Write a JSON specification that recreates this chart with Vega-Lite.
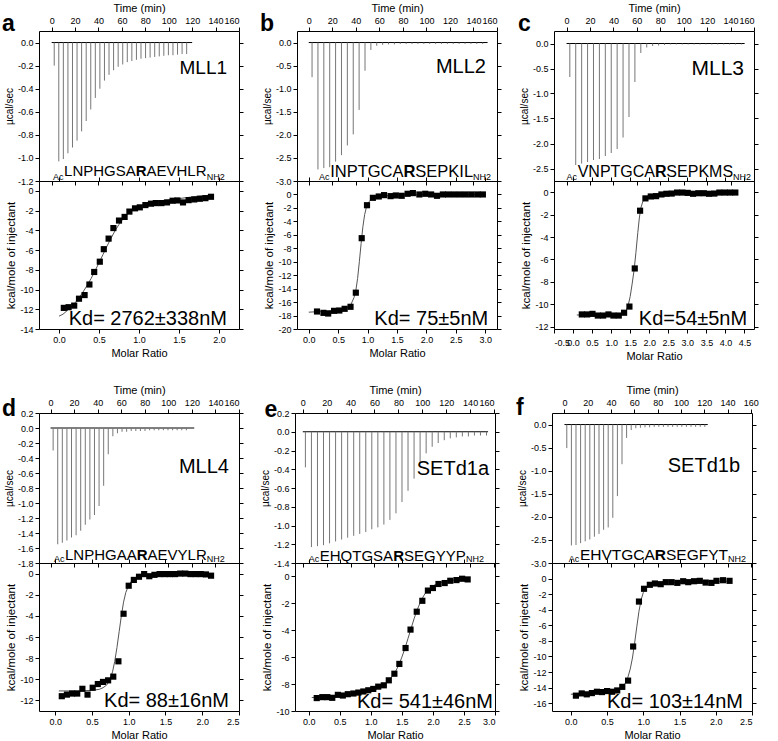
{
"$schema": "https://vega.github.io/schema/vega-lite/v6.json",
"padding": {"left": 1, "top": 1, "right": 0, "bottom": 0},
"background": "white",
"datasets": {
"spikes": [
{"p":"a","t":2.2,"h":-0.2},{"p":"a","t":6.1,"h":-1.03},{"p":"a","t":10,"h":-1.01},{"p":"a","t":13.9,"h":-0.96},{"p":"a","t":17.8,"h":-0.91},{"p":"a","t":21.7,"h":-0.85},{"p":"a","t":25.6,"h":-0.77},{"p":"a","t":29.5,"h":-0.68},{"p":"a","t":33.4,"h":-0.58},{"p":"a","t":37.3,"h":-0.48},{"p":"a","t":41.2,"h":-0.4},{"p":"a","t":45.1,"h":-0.33},{"p":"a","t":49,"h":-0.28},{"p":"a","t":52.9,"h":-0.24},{"p":"a","t":56.8,"h":-0.21},{"p":"a","t":60.7,"h":-0.19},{"p":"a","t":64.6,"h":-0.17},{"p":"a","t":68.5,"h":-0.16},{"p":"a","t":72.4,"h":-0.15},{"p":"a","t":76.3,"h":-0.14},{"p":"a","t":80.2,"h":-0.135},{"p":"a","t":84.1,"h":-0.13},{"p":"a","t":88,"h":-0.125},{"p":"a","t":91.9,"h":-0.12},{"p":"a","t":95.8,"h":-0.115},{"p":"a","t":99.7,"h":-0.11},{"p":"a","t":103.6,"h":-0.11},{"p":"a","t":107.5,"h":-0.105},{"p":"a","t":111.4,"h":-0.1},{"p":"a","t":115.3,"h":-0.1},
{"p":"b","t":2.8,"h":-0.75},{"p":"b","t":7.8,"h":-2.75},{"p":"b","t":12.8,"h":-2.72},{"p":"b","t":17.8,"h":-2.7},{"p":"b","t":22.8,"h":-2.58},{"p":"b","t":27.8,"h":-2.44},{"p":"b","t":32.8,"h":-2.23},{"p":"b","t":37.8,"h":-1.99},{"p":"b","t":42.8,"h":-1.46},{"p":"b","t":47.8,"h":-0.61},{"p":"b","t":52.8,"h":-0.16},{"p":"b","t":57.8,"h":-0.07},{"p":"b","t":62.8,"h":-0.05},{"p":"b","t":67.8,"h":-0.04},{"p":"b","t":72.8,"h":-0.04},{"p":"b","t":77.8,"h":-0.03},{"p":"b","t":82.8,"h":-0.03},{"p":"b","t":87.8,"h":-0.03},{"p":"b","t":92.8,"h":-0.03},{"p":"b","t":97.8,"h":-0.03},{"p":"b","t":102.8,"h":-0.03},{"p":"b","t":107.8,"h":-0.03},{"p":"b","t":112.8,"h":-0.03},{"p":"b","t":117.8,"h":-0.03},{"p":"b","t":122.8,"h":-0.03},{"p":"b","t":127.8,"h":-0.03},{"p":"b","t":132.8,"h":-0.03},{"p":"b","t":137.8,"h":-0.03},{"p":"b","t":142.8,"h":-0.03},{"p":"b","t":147.8,"h":-0.03},
{"p":"c","t":2.8,"h":-0.67},{"p":"c","t":7.85,"h":-2.43},{"p":"c","t":12.9,"h":-2.4},{"p":"c","t":17.95,"h":-2.37},{"p":"c","t":23,"h":-2.33},{"p":"c","t":28.05,"h":-2.31},{"p":"c","t":33.1,"h":-2.25},{"p":"c","t":38.15,"h":-2.19},{"p":"c","t":43.2,"h":-2.11},{"p":"c","t":48.25,"h":-1.88},{"p":"c","t":53.3,"h":-1.47},{"p":"c","t":58.35,"h":-0.77},{"p":"c","t":63.4,"h":-0.19},{"p":"c","t":68.45,"h":-0.08},{"p":"c","t":73.5,"h":-0.05},{"p":"c","t":78.55,"h":-0.04},{"p":"c","t":83.6,"h":-0.03},{"p":"c","t":88.65,"h":-0.02},{"p":"c","t":93.7,"h":-0.02},{"p":"c","t":98.75,"h":-0.02},{"p":"c","t":103.8,"h":-0.02},{"p":"c","t":108.85,"h":-0.02},{"p":"c","t":113.9,"h":-0.02},{"p":"c","t":118.95,"h":-0.02},{"p":"c","t":124,"h":-0.02},{"p":"c","t":129.05,"h":-0.02},{"p":"c","t":134.1,"h":-0.02},{"p":"c","t":139.15,"h":-0.02},{"p":"c","t":144.2,"h":-0.02},{"p":"c","t":149.25,"h":-0.02},
{"p":"d","t":2.2,"h":-0.3},{"p":"d","t":6.1,"h":-1.55},{"p":"d","t":10,"h":-1.53},{"p":"d","t":13.9,"h":-1.5},{"p":"d","t":17.8,"h":-1.46},{"p":"d","t":21.7,"h":-1.43},{"p":"d","t":25.6,"h":-1.37},{"p":"d","t":29.5,"h":-1.29},{"p":"d","t":33.4,"h":-1.22},{"p":"d","t":37.3,"h":-1.16},{"p":"d","t":41.2,"h":-1.04},{"p":"d","t":45.1,"h":-0.77},{"p":"d","t":49,"h":-0.35},{"p":"d","t":52.9,"h":-0.11},{"p":"d","t":56.8,"h":-0.07},{"p":"d","t":60.7,"h":-0.05},{"p":"d","t":64.6,"h":-0.05},{"p":"d","t":68.5,"h":-0.04},{"p":"d","t":72.4,"h":-0.04},{"p":"d","t":76.3,"h":-0.04},{"p":"d","t":80.2,"h":-0.04},{"p":"d","t":84.1,"h":-0.03},{"p":"d","t":88,"h":-0.03},{"p":"d","t":91.9,"h":-0.03},{"p":"d","t":95.8,"h":-0.03},{"p":"d","t":99.7,"h":-0.03},{"p":"d","t":103.6,"h":-0.03},{"p":"d","t":107.5,"h":-0.03},{"p":"d","t":111.4,"h":-0.03},{"p":"d","t":115.3,"h":-0.03},
{"p":"e","t":2.2,"h":-0.38},{"p":"e","t":7.25,"h":-1.23},{"p":"e","t":12.3,"h":-1.22},{"p":"e","t":17.35,"h":-1.21},{"p":"e","t":22.4,"h":-1.19},{"p":"e","t":27.45,"h":-1.17},{"p":"e","t":32.5,"h":-1.15},{"p":"e","t":37.55,"h":-1.13},{"p":"e","t":42.6,"h":-1.11},{"p":"e","t":47.65,"h":-1.09},{"p":"e","t":52.7,"h":-1.07},{"p":"e","t":57.75,"h":-1.04},{"p":"e","t":62.8,"h":-1.02},{"p":"e","t":67.85,"h":-0.99},{"p":"e","t":72.9,"h":-0.94},{"p":"e","t":77.95,"h":-0.87},{"p":"e","t":83,"h":-0.75},{"p":"e","t":88.05,"h":-0.63},{"p":"e","t":93.1,"h":-0.5},{"p":"e","t":98.15,"h":-0.33},{"p":"e","t":103.2,"h":-0.23},{"p":"e","t":108.25,"h":-0.16},{"p":"e","t":113.3,"h":-0.12},{"p":"e","t":118.35,"h":-0.09},{"p":"e","t":123.4,"h":-0.07},{"p":"e","t":128.45,"h":-0.06},{"p":"e","t":133.5,"h":-0.05},{"p":"e","t":138.55,"h":-0.05},{"p":"e","t":143.6,"h":-0.04},{"p":"e","t":148.65,"h":-0.04},{"p":"e","t":153.7,"h":-0.04},
{"p":"f","t":2,"h":-0.51},{"p":"f","t":5.95,"h":-2.62},{"p":"f","t":9.9,"h":-2.61},{"p":"f","t":13.85,"h":-2.57},{"p":"f","t":17.8,"h":-2.53},{"p":"f","t":21.75,"h":-2.49},{"p":"f","t":25.7,"h":-2.43},{"p":"f","t":29.65,"h":-2.37},{"p":"f","t":33.6,"h":-2.28},{"p":"f","t":37.55,"h":-2.23},{"p":"f","t":41.5,"h":-2.02},{"p":"f","t":45.45,"h":-1.55},{"p":"f","t":49.4,"h":-0.86},{"p":"f","t":53.35,"h":-0.29},{"p":"f","t":57.3,"h":-0.12},{"p":"f","t":61.25,"h":-0.08},{"p":"f","t":65.2,"h":-0.07},{"p":"f","t":69.15,"h":-0.06},{"p":"f","t":73.1,"h":-0.06},{"p":"f","t":77.05,"h":-0.05},{"p":"f","t":81,"h":-0.05},{"p":"f","t":84.95,"h":-0.05},{"p":"f","t":88.9,"h":-0.05},{"p":"f","t":92.85,"h":-0.05},{"p":"f","t":96.8,"h":-0.05},{"p":"f","t":100.75,"h":-0.05},{"p":"f","t":104.7,"h":-0.05},{"p":"f","t":108.65,"h":-0.05},{"p":"f","t":112.6,"h":-0.05},{"p":"f","t":116.55,"h":-0.05},{"p":"f","t":120.5,"h":-0.05}
],
"iso": [
{"p":"a","mr":0.06,"v":-11.86},{"p":"a","mr":0.12,"v":-11.79},{"p":"a","mr":0.19,"v":-11.63},{"p":"a","mr":0.25,"v":-10.93},{"p":"a","mr":0.32,"v":-10.56},{"p":"a","mr":0.38,"v":-9.49},{"p":"a","mr":0.44,"v":-8.22},{"p":"a","mr":0.51,"v":-7.18},{"p":"a","mr":0.56,"v":-5.91},{"p":"a","mr":0.62,"v":-4.84},{"p":"a","mr":0.68,"v":-3.77},{"p":"a","mr":0.75,"v":-3.01},{"p":"a","mr":0.82,"v":-2.64},{"p":"a","mr":0.88,"v":-2.1},{"p":"a","mr":0.95,"v":-1.77},{"p":"a","mr":1.01,"v":-1.67},{"p":"a","mr":1.08,"v":-1.44},{"p":"a","mr":1.15,"v":-1.3},{"p":"a","mr":1.21,"v":-1.24},{"p":"a","mr":1.28,"v":-1.24},{"p":"a","mr":1.35,"v":-1.17},{"p":"a","mr":1.42,"v":-1.0},{"p":"a","mr":1.48,"v":-0.97},{"p":"a","mr":1.55,"v":-1.17},{"p":"a","mr":1.62,"v":-0.94},{"p":"a","mr":1.69,"v":-0.87},{"p":"a","mr":1.76,"v":-0.8},{"p":"a","mr":1.83,"v":-0.74},{"p":"a","mr":1.9,"v":-0.6},
{"p":"b","mr":0.14,"v":-17.4},{"p":"b","mr":0.25,"v":-17.6},{"p":"b","mr":0.33,"v":-17.7},{"p":"b","mr":0.43,"v":-17.3},{"p":"b","mr":0.52,"v":-17.25},{"p":"b","mr":0.61,"v":-17.0},{"p":"b","mr":0.71,"v":-16.7},{"p":"b","mr":0.8,"v":-14.6},{"p":"b","mr":0.9,"v":-6.5},{"p":"b","mr":0.99,"v":-1.6},{"p":"b","mr":1.09,"v":-0.5},{"p":"b","mr":1.19,"v":-0.3},{"p":"b","mr":1.28,"v":-0.1},{"p":"b","mr":1.39,"v":-0.25},{"p":"b","mr":1.48,"v":-0.15},{"p":"b","mr":1.58,"v":-0.2},{"p":"b","mr":1.68,"v":0.1},{"p":"b","mr":1.77,"v":0.2},{"p":"b","mr":1.88,"v":0.0},{"p":"b","mr":1.98,"v":0.1},{"p":"b","mr":2.08,"v":0.0},{"p":"b","mr":2.18,"v":-0.2},{"p":"b","mr":2.28,"v":0.0},{"p":"b","mr":2.37,"v":0.0},{"p":"b","mr":2.47,"v":0.0},{"p":"b","mr":2.57,"v":0.0},{"p":"b","mr":2.67,"v":0.0},{"p":"b","mr":2.77,"v":0.0},{"p":"b","mr":2.87,"v":0.0},{"p":"b","mr":2.96,"v":0.0},
{"p":"c","mr":0.23,"v":-10.9},{"p":"c","mr":0.37,"v":-10.9},{"p":"c","mr":0.51,"v":-10.85},{"p":"c","mr":0.65,"v":-11.0},{"p":"c","mr":0.79,"v":-11.0},{"p":"c","mr":0.93,"v":-10.9},{"p":"c","mr":1.06,"v":-11.0},{"p":"c","mr":1.2,"v":-11.0},{"p":"c","mr":1.34,"v":-10.75},{"p":"c","mr":1.48,"v":-10.2},{"p":"c","mr":1.62,"v":-6.8},{"p":"c","mr":1.76,"v":-1.65},{"p":"c","mr":1.9,"v":-0.55},{"p":"c","mr":2.04,"v":-0.38},{"p":"c","mr":2.18,"v":-0.35},{"p":"c","mr":2.32,"v":-0.2},{"p":"c","mr":2.45,"v":-0.14},{"p":"c","mr":2.59,"v":-0.12},{"p":"c","mr":2.73,"v":-0.03},{"p":"c","mr":2.87,"v":-0.03},{"p":"c","mr":3.01,"v":-0.06},{"p":"c","mr":3.15,"v":-0.14},{"p":"c","mr":3.29,"v":-0.09},{"p":"c","mr":3.43,"v":-0.09},{"p":"c","mr":3.57,"v":-0.14},{"p":"c","mr":3.71,"v":-0.12},{"p":"c","mr":3.84,"v":-0.03},{"p":"c","mr":3.98,"v":-0.03},{"p":"c","mr":4.12,"v":-0.03},{"p":"c","mr":4.26,"v":-0.03},
{"p":"d","mr":0.09,"v":-11.6},{"p":"d","mr":0.16,"v":-11.45},{"p":"d","mr":0.23,"v":-11.35},{"p":"d","mr":0.3,"v":-11.35},{"p":"d","mr":0.37,"v":-10.9},{"p":"d","mr":0.44,"v":-11.45},{"p":"d","mr":0.51,"v":-10.8},{"p":"d","mr":0.58,"v":-10.45},{"p":"d","mr":0.65,"v":-10.25},{"p":"d","mr":0.72,"v":-10.1},{"p":"d","mr":0.79,"v":-9.75},{"p":"d","mr":0.86,"v":-8.3},{"p":"d","mr":0.93,"v":-3.8},{"p":"d","mr":1.0,"v":-1.15},{"p":"d","mr":1.07,"v":-0.6},{"p":"d","mr":1.14,"v":-0.3},{"p":"d","mr":1.21,"v":-0.05},{"p":"d","mr":1.28,"v":-0.25},{"p":"d","mr":1.35,"v":-0.12},{"p":"d","mr":1.42,"v":-0.05},{"p":"d","mr":1.49,"v":-0.05},{"p":"d","mr":1.56,"v":-0.05},{"p":"d","mr":1.63,"v":-0.05},{"p":"d","mr":1.7,"v":0.0},{"p":"d","mr":1.77,"v":0.0},{"p":"d","mr":1.84,"v":-0.05},{"p":"d","mr":1.91,"v":-0.05},{"p":"d","mr":1.98,"v":-0.05},{"p":"d","mr":2.05,"v":-0.08},{"p":"d","mr":2.12,"v":-0.2},
{"p":"e","mr":0.13,"v":-9.04},{"p":"e","mr":0.22,"v":-8.97},{"p":"e","mr":0.3,"v":-8.97},{"p":"e","mr":0.38,"v":-9.02},{"p":"e","mr":0.47,"v":-8.8},{"p":"e","mr":0.55,"v":-8.85},{"p":"e","mr":0.63,"v":-8.75},{"p":"e","mr":0.72,"v":-8.7},{"p":"e","mr":0.8,"v":-8.63},{"p":"e","mr":0.88,"v":-8.55},{"p":"e","mr":0.96,"v":-8.46},{"p":"e","mr":1.04,"v":-8.36},{"p":"e","mr":1.12,"v":-8.19},{"p":"e","mr":1.21,"v":-8.09},{"p":"e","mr":1.29,"v":-7.72},{"p":"e","mr":1.38,"v":-7.23},{"p":"e","mr":1.46,"v":-6.5},{"p":"e","mr":1.56,"v":-5.32},{"p":"e","mr":1.64,"v":-3.95},{"p":"e","mr":1.74,"v":-2.62},{"p":"e","mr":1.83,"v":-1.81},{"p":"e","mr":1.92,"v":-1.05},{"p":"e","mr":2.0,"v":-0.86},{"p":"e","mr":2.09,"v":-0.56},{"p":"e","mr":2.19,"v":-0.49},{"p":"e","mr":2.28,"v":-0.32},{"p":"e","mr":2.38,"v":-0.27},{"p":"e","mr":2.47,"v":-0.17},{"p":"e","mr":2.56,"v":-0.22},
{"p":"f","mr":0.07,"v":-15.03},{"p":"f","mr":0.15,"v":-14.74},{"p":"f","mr":0.22,"v":-14.86},{"p":"f","mr":0.29,"v":-14.7},{"p":"f","mr":0.36,"v":-14.53},{"p":"f","mr":0.43,"v":-14.57},{"p":"f","mr":0.5,"v":-14.44},{"p":"f","mr":0.57,"v":-14.53},{"p":"f","mr":0.64,"v":-14.36},{"p":"f","mr":0.71,"v":-13.9},{"p":"f","mr":0.79,"v":-13.1},{"p":"f","mr":0.86,"v":-8.72},{"p":"f","mr":0.94,"v":-2.95},{"p":"f","mr":1.01,"v":-1.31},{"p":"f","mr":1.09,"v":-0.8},{"p":"f","mr":1.16,"v":-0.63},{"p":"f","mr":1.24,"v":-0.72},{"p":"f","mr":1.31,"v":-0.46},{"p":"f","mr":1.39,"v":-0.46},{"p":"f","mr":1.47,"v":-0.55},{"p":"f","mr":1.55,"v":-0.34},{"p":"f","mr":1.62,"v":-0.46},{"p":"f","mr":1.7,"v":-0.34},{"p":"f","mr":1.78,"v":-0.29},{"p":"f","mr":1.86,"v":-0.51},{"p":"f","mr":1.94,"v":-0.55},{"p":"f","mr":2.01,"v":-0.29},{"p":"f","mr":2.1,"v":-0.21},{"p":"f","mr":2.19,"v":-0.29}
],
"fit": [
{"p":"a","mr":0.0,"v":-12.7},{"p":"a","mr":0.05,"v":-12.5},{"p":"a","mr":0.1,"v":-12.15},{"p":"a","mr":0.15,"v":-11.8},{"p":"a","mr":0.2,"v":-11.35},{"p":"a","mr":0.25,"v":-10.85},{"p":"a","mr":0.3,"v":-10.25},{"p":"a","mr":0.35,"v":-9.6},{"p":"a","mr":0.4,"v":-8.9},{"p":"a","mr":0.45,"v":-8.1},{"p":"a","mr":0.5,"v":-7.3},{"p":"a","mr":0.55,"v":-6.45},{"p":"a","mr":0.6,"v":-5.6},{"p":"a","mr":0.65,"v":-4.8},{"p":"a","mr":0.7,"v":-4.05},{"p":"a","mr":0.75,"v":-3.4},{"p":"a","mr":0.8,"v":-2.85},{"p":"a","mr":0.85,"v":-2.4},{"p":"a","mr":0.9,"v":-2.05},{"p":"a","mr":0.95,"v":-1.8},{"p":"a","mr":1.0,"v":-1.6},{"p":"a","mr":1.1,"v":-1.35},{"p":"a","mr":1.2,"v":-1.15},{"p":"a","mr":1.3,"v":-1.0},{"p":"a","mr":1.4,"v":-0.88},{"p":"a","mr":1.5,"v":-0.78},{"p":"a","mr":1.6,"v":-0.68},{"p":"a","mr":1.7,"v":-0.58},{"p":"a","mr":1.8,"v":-0.5},{"p":"a","mr":1.92,"v":-0.42},
{"p":"b","mr":0.0,"v":-17.5},{"p":"b","mr":0.2,"v":-17.4},{"p":"b","mr":0.4,"v":-17.25},{"p":"b","mr":0.55,"v":-17.05},{"p":"b","mr":0.65,"v":-16.8},{"p":"b","mr":0.72,"v":-16.3},{"p":"b","mr":0.77,"v":-15.3},{"p":"b","mr":0.8,"v":-14.3},{"p":"b","mr":0.83,"v":-12.5},{"p":"b","mr":0.86,"v":-10.0},{"p":"b","mr":0.89,"v":-7.3},{"p":"b","mr":0.92,"v":-4.8},{"p":"b","mr":0.95,"v":-3.0},{"p":"b","mr":0.98,"v":-1.9},{"p":"b","mr":1.02,"v":-1.1},{"p":"b","mr":1.08,"v":-0.6},{"p":"b","mr":1.2,"v":-0.3},{"p":"b","mr":1.4,"v":-0.15},{"p":"b","mr":1.8,"v":-0.06},{"p":"b","mr":2.4,"v":-0.03},{"p":"b","mr":2.96,"v":-0.02},
{"p":"c","mr":0.1,"v":-10.95},{"p":"c","mr":0.6,"v":-10.95},{"p":"c","mr":1.0,"v":-10.95},{"p":"c","mr":1.2,"v":-10.93},{"p":"c","mr":1.3,"v":-10.85},{"p":"c","mr":1.38,"v":-10.65},{"p":"c","mr":1.44,"v":-10.2},{"p":"c","mr":1.5,"v":-9.3},{"p":"c","mr":1.55,"v":-8.2},{"p":"c","mr":1.6,"v":-7.0},{"p":"c","mr":1.65,"v":-5.4},{"p":"c","mr":1.7,"v":-3.6},{"p":"c","mr":1.74,"v":-2.3},{"p":"c","mr":1.78,"v":-1.4},{"p":"c","mr":1.83,"v":-0.85},{"p":"c","mr":1.9,"v":-0.55},{"p":"c","mr":2.0,"v":-0.35},{"p":"c","mr":2.2,"v":-0.2},{"p":"c","mr":2.6,"v":-0.1},{"p":"c","mr":3.2,"v":-0.05},{"p":"c","mr":4.26,"v":-0.03},
{"p":"d","mr":0.05,"v":-11.1},{"p":"d","mr":0.3,"v":-11.1},{"p":"d","mr":0.5,"v":-11.05},{"p":"d","mr":0.6,"v":-10.95},{"p":"d","mr":0.65,"v":-10.8},{"p":"d","mr":0.7,"v":-10.55},{"p":"d","mr":0.74,"v":-10.1},{"p":"d","mr":0.78,"v":-9.3},{"p":"d","mr":0.81,"v":-8.3},{"p":"d","mr":0.84,"v":-7.0},{"p":"d","mr":0.87,"v":-5.5},{"p":"d","mr":0.9,"v":-4.0},{"p":"d","mr":0.93,"v":-2.7},{"p":"d","mr":0.96,"v":-1.8},{"p":"d","mr":1.0,"v":-1.1},{"p":"d","mr":1.05,"v":-0.6},{"p":"d","mr":1.1,"v":-0.35},{"p":"d","mr":1.2,"v":-0.17},{"p":"d","mr":1.4,"v":-0.08},{"p":"d","mr":1.7,"v":-0.05},{"p":"d","mr":2.12,"v":-0.04},
{"p":"e","mr":0.05,"v":-9.0},{"p":"e","mr":0.3,"v":-8.95},{"p":"e","mr":0.6,"v":-8.85},{"p":"e","mr":0.8,"v":-8.7},{"p":"e","mr":1.0,"v":-8.5},{"p":"e","mr":1.1,"v":-8.35},{"p":"e","mr":1.2,"v":-8.1},{"p":"e","mr":1.3,"v":-7.7},{"p":"e","mr":1.4,"v":-7.05},{"p":"e","mr":1.45,"v":-6.6},{"p":"e","mr":1.5,"v":-6.0},{"p":"e","mr":1.55,"v":-5.35},{"p":"e","mr":1.6,"v":-4.6},{"p":"e","mr":1.65,"v":-3.85},{"p":"e","mr":1.7,"v":-3.1},{"p":"e","mr":1.75,"v":-2.45},{"p":"e","mr":1.8,"v":-1.9},{"p":"e","mr":1.85,"v":-1.45},{"p":"e","mr":1.9,"v":-1.1},{"p":"e","mr":2.0,"v":-0.7},{"p":"e","mr":2.1,"v":-0.48},{"p":"e","mr":2.2,"v":-0.35},{"p":"e","mr":2.35,"v":-0.25},{"p":"e","mr":2.56,"v":-0.18},
{"p":"f","mr":0.0,"v":-14.85},{"p":"f","mr":0.3,"v":-14.7},{"p":"f","mr":0.5,"v":-14.55},{"p":"f","mr":0.6,"v":-14.4},{"p":"f","mr":0.68,"v":-14.1},{"p":"f","mr":0.74,"v":-13.6},{"p":"f","mr":0.78,"v":-12.9},{"p":"f","mr":0.82,"v":-11.6},{"p":"f","mr":0.85,"v":-10.2},{"p":"f","mr":0.88,"v":-8.3},{"p":"f","mr":0.91,"v":-6.2},{"p":"f","mr":0.94,"v":-4.2},{"p":"f","mr":0.97,"v":-2.7},{"p":"f","mr":1.0,"v":-1.8},{"p":"f","mr":1.04,"v":-1.2},{"p":"f","mr":1.1,"v":-0.85},{"p":"f","mr":1.2,"v":-0.62},{"p":"f","mr":1.4,"v":-0.48},{"p":"f","mr":1.7,"v":-0.4},{"p":"f","mr":2.2,"v":-0.33}
]
},
"spacing": 21,
"vconcat": [
{"spacing": 15, "hconcat": [
{"bounds": "flush", "spacing": 0, "vconcat": [
{"width": 200, "height": 150, "resolve": {"axis": {"x": "independent", "y": "independent"}}, "layer": [
{"data": {"values": [{}]}, "mark": {"type": "rule", "color": "#000", "strokeWidth": 1}, "encoding": {
"x": {"datum": 0, "type": "quantitative", "scale": {"domain": [-10.8, 160], "nice": false, "zero": false}, "axis": {"orient": "top", "title": "Time (min)", "values": [0,20,40,60,80,100,120,140,160], "format": "d"}},
"x2": {"datum": 120},
"y": {"datum": 0, "type": "quantitative", "scale": {"domain": [-1.2, 0.1], "nice": false, "zero": false}, "axis": {"orient": "left", "title": "µcal/sec", "titleFontSize": 10, "values": [0,-0.2,-0.4,-0.6,-0.8,-1.0,-1.2], "format": ".1f"}}}},
{"data": {"name": "spikes"}, "transform": [{"filter": "datum.p == 'a'"}], "mark": {"type": "rule", "color": "#777", "strokeWidth": 1}, "encoding": {
"x": {"field": "t", "type": "quantitative", "axis": {"orient": "bottom", "labels": false, "title": null, "values": [0,20,40,60,80,100,120,140,160]}},
"y": {"field": "h", "type": "quantitative", "axis": {"orient": "right", "labels": false, "title": null, "values": [0,-0.2,-0.4,-0.6,-0.8,-1.0,-1.2]}},
"y2": {"datum": 0}}},
{"data": {"values": [{}]}, "mark": {"type": "text", "text": "a", "fontSize": 23, "fontWeight": "bold", "align": "left", "baseline": "alphabetic"}, "encoding": {"x": {"datum": -42.4, "type": "quantitative", "axis": null}, "y": {"datum": 0.1, "type": "quantitative", "axis": null}}},
{"data": {"values": [{}]}, "mark": {"type": "text", "text": "MLL1", "fontSize": 19, "align": "right", "baseline": "alphabetic"}, "encoding": {"x": {"datum": 149.8, "type": "quantitative", "axis": null}, "y": {"datum": -0.273, "type": "quantitative", "axis": null}}},
{"data": {"values": [{}]}, "mark": {"type": "text", "text": "Ac", "fontSize": 9, "align": "right", "baseline": "alphabetic"}, "encoding": {"x": {"datum": 10.1, "type": "quantitative", "axis": null}, "y": {"datum": -1.187, "type": "quantitative", "axis": null}}},
{"data": {"values": [{}]}, "mark": {"type": "text", "text": "LNPHGSA", "fontSize": 15, "align": "left", "baseline": "alphabetic"}, "encoding": {"x": {"datum": 10.6, "type": "quantitative", "axis": null}, "y": {"datum": -1.157, "type": "quantitative", "axis": null}}},
{"data": {"values": [{}]}, "mark": {"type": "text", "text": "R", "fontSize": 15, "fontWeight": "bold", "align": "left", "baseline": "alphabetic"}, "encoding": {"x": {"datum": 71.8, "type": "quantitative", "axis": null}, "y": {"datum": -1.157, "type": "quantitative", "axis": null}}},
{"data": {"values": [{}]}, "mark": {"type": "text", "text": "AEVHLR", "fontSize": 15, "align": "left", "baseline": "alphabetic"}, "encoding": {"x": {"datum": 81.0, "type": "quantitative", "axis": null}, "y": {"datum": -1.157, "type": "quantitative", "axis": null}}},
{"data": {"values": [{}]}, "mark": {"type": "text", "text": "NH2", "fontSize": 9, "align": "left", "baseline": "alphabetic"}, "encoding": {"x": {"datum": 132.4, "type": "quantitative", "axis": null}, "y": {"datum": -1.187, "type": "quantitative", "axis": null}}}
]},
{"width": 200, "height": 148, "resolve": {"axis": {"x": "independent", "y": "independent"}}, "layer": [
{"data": {"name": "fit"}, "transform": [{"filter": "datum.p == 'a'"}], "mark": {"type": "line", "color": "#555", "strokeWidth": 1}, "encoding": {
"x": {"field": "mr", "type": "quantitative", "scale": {"domain": [-0.25, 2.25], "nice": false, "zero": false}, "axis": {"orient": "bottom", "title": "Molar Ratio", "values": [0,0.5,1,1.5,2], "format": ".1f"}},
"y": {"field": "v", "type": "quantitative", "scale": {"domain": [-14, 1], "nice": false, "zero": false}, "axis": {"orient": "left", "title": "kcal/mole of injectant", "titleFontSize": 11.5, "values": [0,-2,-4,-6,-8,-10,-12,-14], "format": "d"}}}},
{"data": {"name": "iso"}, "transform": [{"filter": "datum.p == 'a'"}], "mark": {"type": "square", "color": "#000", "size": 38, "opacity": 1}, "encoding": {
"x": {"field": "mr", "type": "quantitative", "axis": {"orient": "top", "labels": false, "title": null, "values": [0,0.5,1,1.5,2]}},
"y": {"field": "v", "type": "quantitative", "axis": {"orient": "right", "labels": false, "title": null, "values": [0,-2,-4,-6,-8,-10,-12,-14]}}}},
{"data": {"values": [{}]}, "mark": {"type": "text", "text": "Kd= 2762±338nM", "fontSize": 20, "align": "right", "baseline": "alphabetic"}, "encoding": {"x": {"datum": 2.1, "type": "quantitative", "axis": null}, "y": {"datum": -13.6, "type": "quantitative", "axis": null}}}
]}
]},
{"bounds": "flush", "spacing": 0, "vconcat": [
{"width": 200, "height": 150, "resolve": {"axis": {"x": "independent", "y": "independent"}}, "layer": [
{"data": {"values": [{}]}, "mark": {"type": "rule", "color": "#000", "strokeWidth": 1}, "encoding": {
"x": {"datum": 0, "type": "quantitative", "scale": {"domain": [-10, 160], "nice": false, "zero": false}, "axis": {"orient": "top", "title": "Time (min)", "values": [0,20,40,60,80,100,120,140,160], "format": "d"}},
"x2": {"datum": 152},
"y": {"datum": 0, "type": "quantitative", "scale": {"domain": [-3.0, 0.25], "nice": false, "zero": false}, "axis": {"orient": "left", "title": "µcal/sec", "titleFontSize": 10, "values": [0,-0.5,-1,-1.5,-2,-2.5,-3], "format": ".1f"}}}},
{"data": {"name": "spikes"}, "transform": [{"filter": "datum.p == 'b'"}], "mark": {"type": "rule", "color": "#777", "strokeWidth": 1}, "encoding": {
"x": {"field": "t", "type": "quantitative", "axis": {"orient": "bottom", "labels": false, "title": null, "values": [0,20,40,60,80,100,120,140,160]}},
"y": {"field": "h", "type": "quantitative", "axis": {"orient": "right", "labels": false, "title": null, "values": [0,-0.5,-1,-1.5,-2,-2.5,-3]}},
"y2": {"datum": 0}}},
{"data": {"values": [{}]}, "mark": {"type": "text", "text": "b", "fontSize": 23, "fontWeight": "bold", "align": "left", "baseline": "alphabetic"}, "encoding": {"x": {"datum": -41.5, "type": "quantitative", "axis": null}, "y": {"datum": 0.25, "type": "quantitative", "axis": null}}},
{"data": {"values": [{}]}, "mark": {"type": "text", "text": "MLL2", "fontSize": 20, "align": "right", "baseline": "alphabetic"}, "encoding": {"x": {"datum": 150.6, "type": "quantitative", "axis": null}, "y": {"datum": -0.66, "type": "quantitative", "axis": null}}},
{"data": {"values": [{}]}, "mark": {"type": "text", "text": "Ac", "fontSize": 9, "align": "right", "baseline": "alphabetic"}, "encoding": {"x": {"datum": 17.7, "type": "quantitative", "axis": null}, "y": {"datum": -2.97, "type": "quantitative", "axis": null}}},
{"data": {"values": [{}]}, "mark": {"type": "text", "text": "INPTGCA", "fontSize": 16.5, "align": "left", "baseline": "alphabetic"}, "encoding": {"x": {"datum": 18.2, "type": "quantitative", "axis": null}, "y": {"datum": -2.92, "type": "quantitative", "axis": null}}},
{"data": {"values": [{}]}, "mark": {"type": "text", "text": "R", "fontSize": 16.5, "fontWeight": "bold", "align": "left", "baseline": "alphabetic"}, "encoding": {"x": {"datum": 80.5, "type": "quantitative", "axis": null}, "y": {"datum": -2.92, "type": "quantitative", "axis": null}}},
{"data": {"values": [{}]}, "mark": {"type": "text", "text": "SEPKIL", "fontSize": 16.5, "align": "left", "baseline": "alphabetic"}, "encoding": {"x": {"datum": 90.6, "type": "quantitative", "axis": null}, "y": {"datum": -2.92, "type": "quantitative", "axis": null}}},
{"data": {"values": [{}]}, "mark": {"type": "text", "text": "NH2", "fontSize": 9, "align": "left", "baseline": "alphabetic"}, "encoding": {"x": {"datum": 139.7, "type": "quantitative", "axis": null}, "y": {"datum": -2.97, "type": "quantitative", "axis": null}}}
]},
{"width": 200, "height": 148, "resolve": {"axis": {"x": "independent", "y": "independent"}}, "layer": [
{"data": {"name": "fit"}, "transform": [{"filter": "datum.p == 'b'"}], "mark": {"type": "line", "color": "#555", "strokeWidth": 1}, "encoding": {
"x": {"field": "mr", "type": "quantitative", "scale": {"domain": [-0.2, 3.2], "nice": false, "zero": false}, "axis": {"orient": "bottom", "title": "Molar Ratio", "values": [0,0.5,1,1.5,2,2.5,3], "format": ".1f"}},
"y": {"field": "v", "type": "quantitative", "scale": {"domain": [-20, 2], "nice": false, "zero": false}, "axis": {"orient": "left", "title": "kcal/mole of injectant", "titleFontSize": 11.5, "values": [0,-2,-4,-6,-8,-10,-12,-14,-16,-18,-20], "format": "d"}}}},
{"data": {"name": "iso"}, "transform": [{"filter": "datum.p == 'b'"}], "mark": {"type": "square", "color": "#000", "size": 38, "opacity": 1}, "encoding": {
"x": {"field": "mr", "type": "quantitative", "axis": {"orient": "top", "labels": false, "title": null, "values": [0,0.5,1,1.5,2,2.5,3]}},
"y": {"field": "v", "type": "quantitative", "axis": {"orient": "right", "labels": false, "title": null, "values": [0,-2,-4,-6,-8,-10,-12,-14,-16,-18,-20]}}}},
{"data": {"values": [{}]}, "mark": {"type": "text", "text": "Kd= 75±5nM", "fontSize": 20, "align": "right", "baseline": "alphabetic"}, "encoding": {"x": {"datum": 3.05, "type": "quantitative", "axis": null}, "y": {"datum": -19.4, "type": "quantitative", "axis": null}}}
]}
]},
{"bounds": "flush", "spacing": 0, "vconcat": [
{"width": 200, "height": 150, "resolve": {"axis": {"x": "independent", "y": "independent"}}, "layer": [
{"data": {"values": [{}]}, "mark": {"type": "rule", "color": "#000", "strokeWidth": 1}, "encoding": {
"x": {"datum": 0, "type": "quantitative", "scale": {"domain": [-10.7, 160], "nice": false, "zero": false}, "axis": {"orient": "top", "title": "Time (min)", "values": [0,20,40,60,80,100,120,140,160], "format": "d"}},
"x2": {"datum": 152},
"y": {"datum": 0, "type": "quantitative", "scale": {"domain": [-2.75, 0.25], "nice": false, "zero": false}, "axis": {"orient": "left", "title": "µcal/sec", "titleFontSize": 10, "values": [0,-0.5,-1,-1.5,-2,-2.5], "format": ".1f"}}}},
{"data": {"name": "spikes"}, "transform": [{"filter": "datum.p == 'c'"}], "mark": {"type": "rule", "color": "#777", "strokeWidth": 1}, "encoding": {
"x": {"field": "t", "type": "quantitative", "axis": {"orient": "bottom", "labels": false, "title": null, "values": [0,20,40,60,80,100,120,140,160]}},
"y": {"field": "h", "type": "quantitative", "axis": {"orient": "right", "labels": false, "title": null, "values": [0,-0.5,-1,-1.5,-2,-2.5]}},
"y2": {"datum": 0}}},
{"data": {"values": [{}]}, "mark": {"type": "text", "text": "c", "fontSize": 23, "fontWeight": "bold", "align": "left", "baseline": "alphabetic"}, "encoding": {"x": {"datum": -41.4, "type": "quantitative", "axis": null}, "y": {"datum": 0.25, "type": "quantitative", "axis": null}}},
{"data": {"values": [{}]}, "mark": {"type": "text", "text": "MLL3", "fontSize": 21, "align": "right", "baseline": "alphabetic"}, "encoding": {"x": {"datum": 151.5, "type": "quantitative", "axis": null}, "y": {"datum": -0.63, "type": "quantitative", "axis": null}}},
{"data": {"values": [{}]}, "mark": {"type": "text", "text": "Ac", "fontSize": 9, "align": "right", "baseline": "alphabetic"}, "encoding": {"x": {"datum": 9.0, "type": "quantitative", "axis": null}, "y": {"datum": -2.73, "type": "quantitative", "axis": null}}},
{"data": {"values": [{}]}, "mark": {"type": "text", "text": "VNPTGCA", "fontSize": 16, "align": "left", "baseline": "alphabetic"}, "encoding": {"x": {"datum": 9.5, "type": "quantitative", "axis": null}, "y": {"datum": -2.67, "type": "quantitative", "axis": null}}},
{"data": {"values": [{}]}, "mark": {"type": "text", "text": "R", "fontSize": 16, "fontWeight": "bold", "align": "left", "baseline": "alphabetic"}, "encoding": {"x": {"datum": 75.4, "type": "quantitative", "axis": null}, "y": {"datum": -2.67, "type": "quantitative", "axis": null}}},
{"data": {"values": [{}]}, "mark": {"type": "text", "text": "SEPKMS", "fontSize": 16, "align": "left", "baseline": "alphabetic"}, "encoding": {"x": {"datum": 85.2, "type": "quantitative", "axis": null}, "y": {"datum": -2.67, "type": "quantitative", "axis": null}}},
{"data": {"values": [{}]}, "mark": {"type": "text", "text": "NH2", "fontSize": 9, "align": "left", "baseline": "alphabetic"}, "encoding": {"x": {"datum": 142.0, "type": "quantitative", "axis": null}, "y": {"datum": -2.73, "type": "quantitative", "axis": null}}}
]},
{"width": 200, "height": 148, "resolve": {"axis": {"x": "independent", "y": "independent"}}, "layer": [
{"data": {"name": "fit"}, "transform": [{"filter": "datum.p == 'c'"}], "mark": {"type": "line", "color": "#555", "strokeWidth": 1}, "encoding": {
"x": {"field": "mr", "type": "quantitative", "scale": {"domain": [-0.5, 4.75], "nice": false, "zero": false}, "axis": {"orient": "bottom", "title": "Molar Ratio", "values": [-0.5,0,0.5,1,1.5,2,2.5,3,3.5,4,4.5], "format": ".1f", "labelPadding": 5}},
"y": {"field": "v", "type": "quantitative", "scale": {"domain": [-12.2, 1], "nice": false, "zero": false}, "axis": {"orient": "left", "title": "kcal/mole of injectant", "titleFontSize": 11.5, "values": [0,-2,-4,-6,-8,-10,-12], "format": "d"}}}},
{"data": {"name": "iso"}, "transform": [{"filter": "datum.p == 'c'"}], "mark": {"type": "square", "color": "#000", "size": 38, "opacity": 1}, "encoding": {
"x": {"field": "mr", "type": "quantitative", "axis": {"orient": "top", "labels": false, "title": null, "values": [-0.5,0,0.5,1,1.5,2,2.5,3,3.5,4,4.5]}},
"y": {"field": "v", "type": "quantitative", "axis": {"orient": "right", "labels": false, "title": null, "values": [0,-2,-4,-6,-8,-10,-12]}}}},
{"data": {"values": [{}]}, "mark": {"type": "text", "text": "Kd=54±5nM", "fontSize": 20, "align": "right", "baseline": "alphabetic"}, "encoding": {"x": {"datum": 4.57, "type": "quantitative", "axis": null}, "y": {"datum": -11.8, "type": "quantitative", "axis": null}}}
]}
]}
]},
{"spacing": 15, "hconcat": [
{"bounds": "flush", "spacing": 0, "vconcat": [
{"width": 200, "height": 150, "resolve": {"axis": {"x": "independent", "y": "independent"}}, "layer": [
{"data": {"values": [{}]}, "mark": {"type": "rule", "color": "#000", "strokeWidth": 1}, "encoding": {
"x": {"datum": 0, "type": "quantitative", "scale": {"domain": [-9.8, 160], "nice": false, "zero": false}, "axis": {"orient": "top", "title": "Time (min)", "values": [0,20,40,60,80,100,120,140,160], "format": "d"}},
"x2": {"datum": 122},
"y": {"datum": 0, "type": "quantitative", "scale": {"domain": [-1.8, 0.2], "nice": false, "zero": false}, "axis": {"orient": "left", "title": "µcal/sec", "titleFontSize": 10, "values": [0.2,0,-0.2,-0.4,-0.6,-0.8,-1.0,-1.2,-1.4,-1.6,-1.8], "format": ".1f"}}}},
{"data": {"name": "spikes"}, "transform": [{"filter": "datum.p == 'd'"}], "mark": {"type": "rule", "color": "#777", "strokeWidth": 1}, "encoding": {
"x": {"field": "t", "type": "quantitative", "axis": {"orient": "bottom", "labels": false, "title": null, "values": [0,20,40,60,80,100,120,140,160]}},
"y": {"field": "h", "type": "quantitative", "axis": {"orient": "right", "labels": false, "title": null, "values": [0.2,0,-0.2,-0.4,-0.6,-0.8,-1.0,-1.2,-1.4,-1.6,-1.8]}},
"y2": {"datum": 0}}},
{"data": {"values": [{}]}, "mark": {"type": "text", "text": "d", "fontSize": 23, "fontWeight": "bold", "align": "left", "baseline": "alphabetic"}, "encoding": {"x": {"datum": -41.2, "type": "quantitative", "axis": null}, "y": {"datum": 0.16, "type": "quantitative", "axis": null}}},
{"data": {"values": [{}]}, "mark": {"type": "text", "text": "MLL4", "fontSize": 20, "align": "right", "baseline": "alphabetic"}, "encoding": {"x": {"datum": 151.5, "type": "quantitative", "axis": null}, "y": {"datum": -0.6, "type": "quantitative", "axis": null}}},
{"data": {"values": [{}]}, "mark": {"type": "text", "text": "Ac", "fontSize": 9, "align": "right", "baseline": "alphabetic"}, "encoding": {"x": {"datum": 11.8, "type": "quantitative", "axis": null}, "y": {"datum": -1.787, "type": "quantitative", "axis": null}}},
{"data": {"values": [{}]}, "mark": {"type": "text", "text": "LNPHGAA", "fontSize": 15, "align": "left", "baseline": "alphabetic"}, "encoding": {"x": {"datum": 12.3, "type": "quantitative", "axis": null}, "y": {"datum": -1.76, "type": "quantitative", "axis": null}}},
{"data": {"values": [{}]}, "mark": {"type": "text", "text": "R", "fontSize": 15, "fontWeight": "bold", "align": "left", "baseline": "alphabetic"}, "encoding": {"x": {"datum": 73.2, "type": "quantitative", "axis": null}, "y": {"datum": -1.76, "type": "quantitative", "axis": null}}},
{"data": {"values": [{}]}, "mark": {"type": "text", "text": "AEVYLR", "fontSize": 15, "align": "left", "baseline": "alphabetic"}, "encoding": {"x": {"datum": 82.4, "type": "quantitative", "axis": null}, "y": {"datum": -1.76, "type": "quantitative", "axis": null}}},
{"data": {"values": [{}]}, "mark": {"type": "text", "text": "NH2", "fontSize": 9, "align": "left", "baseline": "alphabetic"}, "encoding": {"x": {"datum": 132.7, "type": "quantitative", "axis": null}, "y": {"datum": -1.787, "type": "quantitative", "axis": null}}}
]},
{"width": 200, "height": 148, "resolve": {"axis": {"x": "independent", "y": "independent"}}, "layer": [
{"data": {"name": "fit"}, "transform": [{"filter": "datum.p == 'd'"}], "mark": {"type": "line", "color": "#555", "strokeWidth": 1}, "encoding": {
"x": {"field": "mr", "type": "quantitative", "scale": {"domain": [-0.22, 2.5], "nice": false, "zero": false}, "axis": {"orient": "bottom", "title": "Molar Ratio", "values": [0,0.5,1,1.5,2,2.5], "format": ".1f"}},
"y": {"field": "v", "type": "quantitative", "scale": {"domain": [-13, 1], "nice": false, "zero": false}, "axis": {"orient": "left", "title": "kcal/mole of injectant", "titleFontSize": 11.5, "values": [0,-2,-4,-6,-8,-10,-12], "format": "d"}}}},
{"data": {"name": "iso"}, "transform": [{"filter": "datum.p == 'd'"}], "mark": {"type": "square", "color": "#000", "size": 38, "opacity": 1}, "encoding": {
"x": {"field": "mr", "type": "quantitative", "axis": {"orient": "top", "labels": false, "title": null, "values": [0,0.5,1,1.5,2,2.5]}},
"y": {"field": "v", "type": "quantitative", "axis": {"orient": "right", "labels": false, "title": null, "values": [0,-2,-4,-6,-8,-10,-12]}}}},
{"data": {"values": [{}]}, "mark": {"type": "text", "text": "Kd= 88±16nM", "fontSize": 20, "align": "right", "baseline": "alphabetic"}, "encoding": {"x": {"datum": 2.364, "type": "quantitative", "axis": null}, "y": {"datum": -12.62, "type": "quantitative", "axis": null}}}
]}
]},
{"bounds": "flush", "spacing": 0, "vconcat": [
{"width": 200, "height": 150, "resolve": {"axis": {"x": "independent", "y": "independent"}}, "layer": [
{"data": {"values": [{}]}, "mark": {"type": "rule", "color": "#000", "strokeWidth": 1}, "encoding": {
"x": {"datum": 0, "type": "quantitative", "scale": {"domain": [-6.5, 160.8], "nice": false, "zero": false}, "axis": {"orient": "top", "title": "Time (min)", "values": [0,20,40,60,80,100,120,140,160], "format": "d"}},
"x2": {"datum": 155},
"y": {"datum": 0, "type": "quantitative", "scale": {"domain": [-1.4, 0.2], "nice": false, "zero": false}, "axis": {"orient": "left", "title": "µcal/sec", "titleFontSize": 10, "values": [0.2,0,-0.2,-0.4,-0.6,-0.8,-1.0,-1.2,-1.4], "format": ".1f"}}}},
{"data": {"name": "spikes"}, "transform": [{"filter": "datum.p == 'e'"}], "mark": {"type": "rule", "color": "#777", "strokeWidth": 1}, "encoding": {
"x": {"field": "t", "type": "quantitative", "axis": {"orient": "bottom", "labels": false, "title": null, "values": [0,20,40,60,80,100,120,140,160]}},
"y": {"field": "h", "type": "quantitative", "axis": {"orient": "right", "labels": false, "title": null, "values": [0.2,0,-0.2,-0.4,-0.6,-0.8,-1.0,-1.2,-1.4]}},
"y2": {"datum": 0}}},
{"data": {"values": [{}]}, "mark": {"type": "text", "text": "e", "fontSize": 23, "fontWeight": "bold", "align": "left", "baseline": "alphabetic"}, "encoding": {"x": {"datum": -32.0, "type": "quantitative", "axis": null}, "y": {"datum": 0.157, "type": "quantitative", "axis": null}}},
{"data": {"values": [{}]}, "mark": {"type": "text", "text": "SETd1a", "fontSize": 20, "align": "right", "baseline": "alphabetic"}, "encoding": {"x": {"datum": 155.8, "type": "quantitative", "axis": null}, "y": {"datum": -0.46, "type": "quantitative", "axis": null}}},
{"data": {"values": [{}]}, "mark": {"type": "text", "text": "Ac", "fontSize": 9, "align": "right", "baseline": "alphabetic"}, "encoding": {"x": {"datum": 13.7, "type": "quantitative", "axis": null}, "y": {"datum": -1.392, "type": "quantitative", "axis": null}}},
{"data": {"values": [{}]}, "mark": {"type": "text", "text": "EHQTGSA", "fontSize": 15, "align": "left", "baseline": "alphabetic"}, "encoding": {"x": {"datum": 14.2, "type": "quantitative", "axis": null}, "y": {"datum": -1.38, "type": "quantitative", "axis": null}}},
{"data": {"values": [{}]}, "mark": {"type": "text", "text": "R", "fontSize": 15, "fontWeight": "bold", "align": "left", "baseline": "alphabetic"}, "encoding": {"x": {"datum": 75.6, "type": "quantitative", "axis": null}, "y": {"datum": -1.38, "type": "quantitative", "axis": null}}},
{"data": {"values": [{}]}, "mark": {"type": "text", "text": "SEGYYP", "fontSize": 15, "align": "left", "baseline": "alphabetic"}, "encoding": {"x": {"datum": 84.7, "type": "quantitative", "axis": null}, "y": {"datum": -1.38, "type": "quantitative", "axis": null}}},
{"data": {"values": [{}]}, "mark": {"type": "text", "text": "NH2", "fontSize": 9, "align": "left", "baseline": "alphabetic"}, "encoding": {"x": {"datum": 136.5, "type": "quantitative", "axis": null}, "y": {"datum": -1.392, "type": "quantitative", "axis": null}}}
]},
{"width": 200, "height": 148, "resolve": {"axis": {"x": "independent", "y": "independent"}}, "layer": [
{"data": {"name": "fit"}, "transform": [{"filter": "datum.p == 'e'"}], "mark": {"type": "line", "color": "#555", "strokeWidth": 1}, "encoding": {
"x": {"field": "mr", "type": "quantitative", "scale": {"domain": [-0.22, 3.0], "nice": false, "zero": false}, "axis": {"orient": "bottom", "title": "Molar Ratio", "values": [0,0.5,1,1.5,2,2.5,3], "format": ".1f"}},
"y": {"field": "v", "type": "quantitative", "scale": {"domain": [-10, 1], "nice": false, "zero": false}, "axis": {"orient": "left", "title": "kcal/mole of injectant", "titleFontSize": 11.5, "values": [0,-2,-4,-6,-8,-10], "format": "d"}}}},
{"data": {"name": "iso"}, "transform": [{"filter": "datum.p == 'e'"}], "mark": {"type": "square", "color": "#000", "size": 38, "opacity": 1}, "encoding": {
"x": {"field": "mr", "type": "quantitative", "axis": {"orient": "top", "labels": false, "title": null, "values": [0,0.5,1,1.5,2,2.5,3]}},
"y": {"field": "v", "type": "quantitative", "axis": {"orient": "right", "labels": false, "title": null, "values": [0,-2,-4,-6,-8,-10]}}}},
{"data": {"values": [{}]}, "mark": {"type": "text", "text": "Kd= 541±46nM", "fontSize": 20, "align": "right", "baseline": "alphabetic"}, "encoding": {"x": {"datum": 2.968, "type": "quantitative", "axis": null}, "y": {"datum": -9.78, "type": "quantitative", "axis": null}}}
]}
]},
{"bounds": "flush", "spacing": 0, "vconcat": [
{"width": 200, "height": 150, "resolve": {"axis": {"x": "independent", "y": "independent"}}, "layer": [
{"data": {"values": [{}]}, "mark": {"type": "rule", "color": "#000", "strokeWidth": 1}, "encoding": {
"x": {"datum": 0, "type": "quantitative", "scale": {"domain": [-10.7, 161], "nice": false, "zero": false}, "axis": {"orient": "top", "title": "Time (min)", "values": [0,20,40,60,80,100,120,140,160], "format": "d"}},
"x2": {"datum": 123},
"y": {"datum": 0, "type": "quantitative", "scale": {"domain": [-3.0, 0.25], "nice": false, "zero": false}, "axis": {"orient": "left", "title": "µcal/sec", "titleFontSize": 10, "values": [0,-0.5,-1,-1.5,-2,-2.5,-3], "format": ".1f"}}}},
{"data": {"name": "spikes"}, "transform": [{"filter": "datum.p == 'f'"}], "mark": {"type": "rule", "color": "#777", "strokeWidth": 1}, "encoding": {
"x": {"field": "t", "type": "quantitative", "axis": {"orient": "bottom", "labels": false, "title": null, "values": [0,20,40,60,80,100,120,140,160]}},
"y": {"field": "h", "type": "quantitative", "axis": {"orient": "right", "labels": false, "title": null, "values": [0,-0.5,-1,-1.5,-2,-2.5,-3]}},
"y2": {"datum": 0}}},
{"data": {"values": [{}]}, "mark": {"type": "text", "text": "f", "fontSize": 23, "fontWeight": "bold", "align": "left", "baseline": "alphabetic"}, "encoding": {"x": {"datum": -41.6, "type": "quantitative", "axis": null}, "y": {"datum": 0.207, "type": "quantitative", "axis": null}}},
{"data": {"values": [{}]}, "mark": {"type": "text", "text": "SETd1b", "fontSize": 20, "align": "right", "baseline": "alphabetic"}, "encoding": {"x": {"datum": 150.7, "type": "quantitative", "axis": null}, "y": {"datum": -1.03, "type": "quantitative", "axis": null}}},
{"data": {"values": [{}]}, "mark": {"type": "text", "text": "Ac", "fontSize": 9, "align": "right", "baseline": "alphabetic"}, "encoding": {"x": {"datum": 12.8, "type": "quantitative", "axis": null}, "y": {"datum": -2.975, "type": "quantitative", "axis": null}}},
{"data": {"values": [{}]}, "mark": {"type": "text", "text": "EHVTGCA", "fontSize": 15.5, "align": "left", "baseline": "alphabetic"}, "encoding": {"x": {"datum": 13.3, "type": "quantitative", "axis": null}, "y": {"datum": -2.935, "type": "quantitative", "axis": null}}},
{"data": {"values": [{}]}, "mark": {"type": "text", "text": "R", "fontSize": 15.5, "fontWeight": "bold", "align": "left", "baseline": "alphabetic"}, "encoding": {"x": {"datum": 77.6, "type": "quantitative", "axis": null}, "y": {"datum": -2.935, "type": "quantitative", "axis": null}}},
{"data": {"values": [{}]}, "mark": {"type": "text", "text": "SEGFYT", "fontSize": 15.5, "align": "left", "baseline": "alphabetic"}, "encoding": {"x": {"datum": 87.2, "type": "quantitative", "axis": null}, "y": {"datum": -2.935, "type": "quantitative", "axis": null}}},
{"data": {"values": [{}]}, "mark": {"type": "text", "text": "NH2", "fontSize": 9, "align": "left", "baseline": "alphabetic"}, "encoding": {"x": {"datum": 140.4, "type": "quantitative", "axis": null}, "y": {"datum": -2.975, "type": "quantitative", "axis": null}}}
]},
{"width": 200, "height": 148, "resolve": {"axis": {"x": "independent", "y": "independent"}}, "layer": [
{"data": {"name": "fit"}, "transform": [{"filter": "datum.p == 'f'"}], "mark": {"type": "line", "color": "#555", "strokeWidth": 1}, "encoding": {
"x": {"field": "mr", "type": "quantitative", "scale": {"domain": [-0.26, 2.5], "nice": false, "zero": false}, "axis": {"orient": "bottom", "title": "Molar Ratio", "values": [0,0.5,1,1.5,2,2.5], "format": ".1f"}},
"y": {"field": "v", "type": "quantitative", "scale": {"domain": [-17, 2], "nice": false, "zero": false}, "axis": {"orient": "left", "title": "kcal/mole of injectant", "titleFontSize": 11.5, "values": [0,-2,-4,-6,-8,-10,-12,-14,-16], "format": "d"}}}},
{"data": {"name": "iso"}, "transform": [{"filter": "datum.p == 'f'"}], "mark": {"type": "square", "color": "#000", "size": 38, "opacity": 1}, "encoding": {
"x": {"field": "mr", "type": "quantitative", "axis": {"orient": "top", "labels": false, "title": null, "values": [0,0.5,1,1.5,2,2.5]}},
"y": {"field": "v", "type": "quantitative", "axis": {"orient": "right", "labels": false, "title": null, "values": [0,-2,-4,-6,-8,-10,-12,-14,-16]}}}},
{"data": {"values": [{}]}, "mark": {"type": "text", "text": "Kd= 103±14nM", "fontSize": 20, "align": "right", "baseline": "alphabetic"}, "encoding": {"x": {"datum": 2.376, "type": "quantitative", "axis": null}, "y": {"datum": -16.6, "type": "quantitative", "axis": null}}}
]}
]}
]}
],
"config": {
"font": "Liberation Sans",
"view": {"stroke": "#000", "strokeWidth": 1},
"locale": {"number": {"decimal": ".", "thousands": ",", "grouping": [3], "currency": ["$", ""], "minus": "-"}},
"axis": {"grid": false, "domain": false, "tickColor": "#000", "tickSize": 4, "labelFontSize": 9, "labelColor": "#000", "labelPadding": 2, "labelOverlap": false, "titleFontSize": 11, "titleFontWeight": "normal", "titleColor": "#000", "titlePadding": 3, "labelFont": "Liberation Sans", "titleFont": "Liberation Sans"},
"text": {"font": "Liberation Sans", "color": "#000"}
}
}
